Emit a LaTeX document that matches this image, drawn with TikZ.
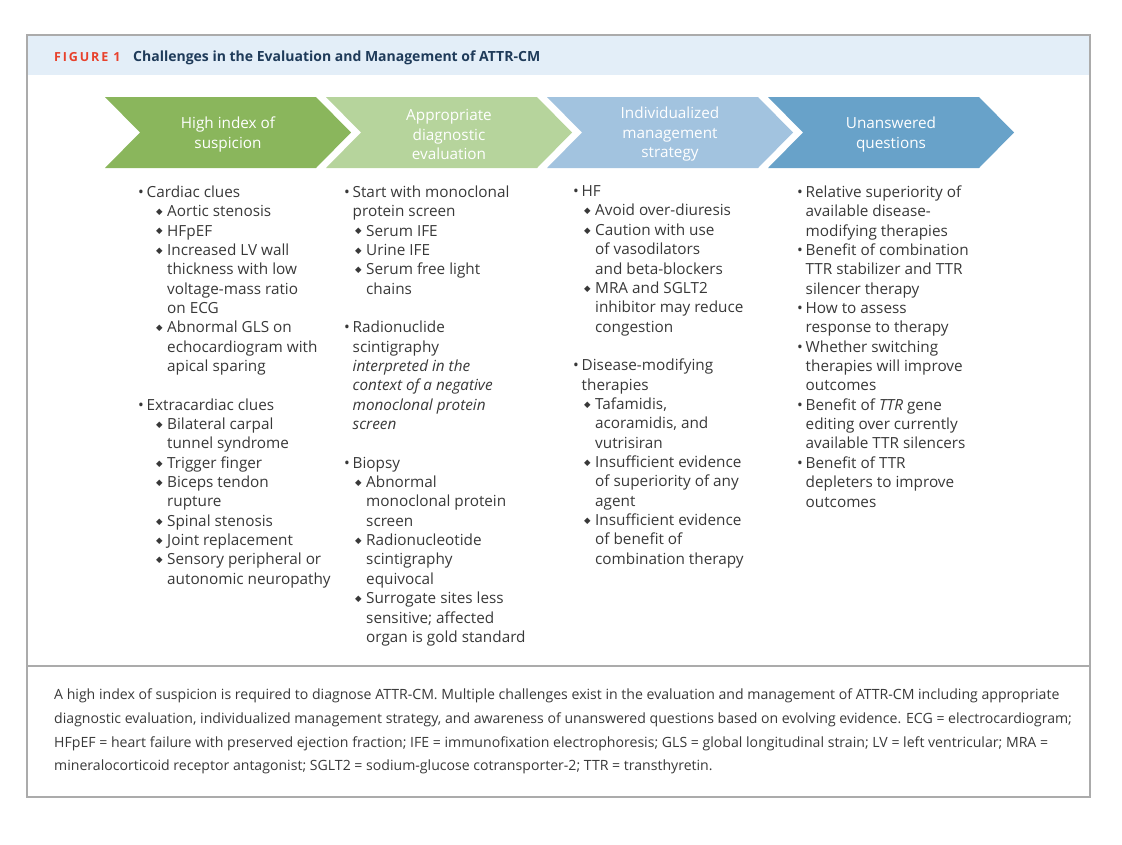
\documentclass[tikz,border=0pt]{standalone}
\usepackage{fontspec}
\setmainfont{Open Sans}
\newfontfamily\symfont{DejaVu Sans}
\usepackage{tikz}
\usetikzlibrary{positioning,calc}
\definecolor{acGreen}{HTML}{8AB65C}
\definecolor{acLGreen}{HTML}{B6D49C}
\definecolor{acLBlue}{HTML}{A2C3DF}
\definecolor{acBlue}{HTML}{68A2C9}
\definecolor{acBand}{HTML}{E3EEF8}
\definecolor{acRed}{HTML}{E8412C}
\definecolor{acNavy}{HTML}{1F3B5A}
\definecolor{acText}{HTML}{383838}
\definecolor{acFrame}{HTML}{ABABAB}
\newlength\subind
\setlength\subind{11pt}
\newcommand\bul{\makebox[8.5pt][l]{•}}
\newcommand\bulgap{\hspace*{8.5pt}}
\newcommand\dia{\hspace*{\subind}\makebox[11pt][l]{\raisebox{2.2pt}{\symfont\fontsize{8.5}{8.5}\selectfont ◆}}}
\newcommand\diagap{\hspace*{\subind}\hspace*{11pt}}
\tikzset{
  chevtext/.style={text=white, font=\fontsize{15.3}{19.5}\selectfont, align=center, inner sep=0pt},
  coltext/.style={text=acText, font=\fontsize{15.3}{19.35}\selectfont, align=left, inner sep=0pt, anchor=north west},
  captext/.style={text=acText, font=\fontsize{14.1}{23.8}\selectfont, align=left, inner sep=0pt, anchor=north west}
}

\begin{document}
\begin{tikzpicture}[x=1pt, y=-1pt]
    \useasboundingbox (0,0) rectangle (1122,844);
    \fill[acBand] (27,35) rectangle (1090,75);
    \draw[acFrame, line width=1.2pt] (27,35) rectangle (1090,797);
    \draw[acFrame, line width=1.2pt] (27,666) -- (1090,666);
    \node[anchor=base west, inner sep=0pt, text=acRed, font=\fontsize{12.5}{14}\selectfont\bfseries\addfontfeatures{LetterSpace=15}] (figlab) at (54,61.5) {FIGURE 1};
    \node[anchor=base west, inner sep=0pt, text=acNavy, font=\fontsize{14}{16}\selectfont\bfseries] (title) at (133,61.5) {Challenges in the Evaluation and Management of ATTR-CM};
    \foreach \lx/\col/\txt/\nm in {105/acGreen/{High index of\\suspicion}/chHigh,
        326/acLGreen/{Appropriate\\diagnostic\\evaluation}/chEval,
        547/acLBlue/{Individualized\\management\\strategy}/chMgmt,
        768/acBlue/{Unanswered\\questions}/chOpen} {
      \fill[\col] (\lx,97) -- ++(211,0) -- ++(35,35.5) -- ++(-35,35.5) -- ++(-211,0) -- ++(35,-35.5) -- cycle;
      \node[chevtext] (\nm) at ({\lx+123},134.5) {\txt};
    }
    \node[coltext, /utils/exec={\setlength\subind{18pt}}] (colHigh) at (138,185.5) {%
      \bul Cardiac clues\\
      \dia Aortic stenosis\\
      \dia HFpEF\\
      \dia Increased LV wall\\
      \diagap thickness with low\\
      \diagap voltage-mass ratio\\
      \diagap on ECG\\
      \dia Abnormal GLS on\\
      \diagap echocardiogram with\\
      \diagap apical sparing\\[19.35pt]
      \bul Extracardiac clues\\
      \dia Bilateral carpal\\
      \diagap tunnel syndrome\\
      \dia Trigger finger\\
      \dia Biceps tendon\\
      \diagap rupture\\
      \dia Spinal stenosis\\
      \dia Joint replacement\\
      \dia Sensory peripheral or\\
      \diagap autonomic neuropathy};
    \node[coltext] (colEval) at (344,185.5) {%
      \bul Start with monoclonal\\
      \bulgap protein screen\\
      \dia Serum IFE\\
      \dia Urine IFE\\
      \dia Serum free light\\
      \diagap chains\\[19.35pt]
      \bul Radionuclide\\
      \bulgap scintigraphy\\
      \bulgap \textit{interpreted in the}\\
      \bulgap \textit{context of a negative}\\
      \bulgap \textit{monoclonal protein}\\
      \bulgap \textit{screen}\\[19.35pt]
      \bul Biopsy\\
      \dia Abnormal\\
      \diagap monoclonal protein\\
      \diagap screen\\
      \dia Radionucleotide\\
      \diagap scintigraphy\\
      \diagap equivocal\\
      \dia Surrogate sites less\\
      \diagap sensitive; affected\\
      \diagap organ is gold standard};
    \node[coltext] (colMgmt) at (573,185.5) {%
      \bul HF\\
      \dia Avoid over-diuresis\\
      \dia Caution with use\\
      \diagap of vasodilators\\
      \diagap and beta-blockers\\
      \dia MRA and SGLT2\\
      \diagap inhibitor may reduce\\
      \diagap congestion\\[19.35pt]
      \bul Disease-modifying\\
      \bulgap therapies\\
      \dia Tafamidis,\\
      \diagap acoramidis, and\\
      \diagap vutrisiran\\
      \dia Insufficient evidence\\
      \diagap of superiority of any\\
      \diagap agent\\
      \dia Insufficient evidence\\
      \diagap of benefit of\\
      \diagap combination therapy};
    \node[coltext] (colOpen) at (797,185.5) {%
      \bul Relative superiority of\\
      \bulgap available disease-\\
      \bulgap modifying therapies\\
      \bul Benefit of combination\\
      \bulgap TTR stabilizer and TTR\\
      \bulgap silencer therapy\\
      \bul How to assess\\
      \bulgap response to therapy\\
      \bul Whether switching\\
      \bulgap therapies will improve\\
      \bulgap outcomes\\
      \bul Benefit of \textit{TTR} gene\\
      \bulgap editing over currently\\
      \bulgap available TTR silencers\\
      \bul Benefit of TTR\\
      \bulgap depleters to improve\\
      \bulgap outcomes};
    \node[captext] (caption) at (54,688.5) {%
      A high index of suspicion is required to diagnose ATTR-CM. Multiple challenges exist in the evaluation and management of ATTR-CM including appropriate\\
      diagnostic evaluation, individualized management strategy, and awareness of unanswered questions based on evolving evidence. ECG = electrocardiogram;\\
      HFpEF = heart failure with preserved ejection fraction; IFE = immunofixation electrophoresis; GLS = global longitudinal strain; LV = left ventricular; MRA =\\
      mineralocorticoid receptor antagonist; SGLT2 = sodium-glucose cotransporter-2; TTR = transthyretin.};
  \end{tikzpicture}
\end{document}
